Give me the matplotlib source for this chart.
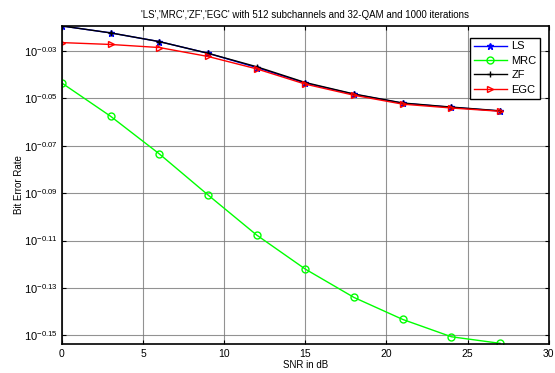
import matplotlib
matplotlib.use("Agg")
import matplotlib.pyplot as plt
from matplotlib.ticker import FixedLocator, FixedFormatter, NullLocator

plt.rcParams['font.family'] = ['Liberation Sans', 'DejaVu Sans']
plt.rcParams['mathtext.default'] = 'regular'

snr = [0, 3, 6, 9, 12, 15, 18, 21, 24, 27]
ber_ls = [0.9561, 0.9497, 0.9417, 0.9311, 0.9183, 0.9045, 0.8947, 0.8870, 0.8835, 0.8803]
ber_mrc = [0.9045, 0.8758, 0.8444, 0.8114, 0.7804, 0.7550, 0.7345, 0.7190, 0.7070, 0.7025]
ber_zf = [0.9561, 0.9497, 0.9417, 0.9311, 0.9190, 0.9050, 0.8950, 0.8872, 0.8837, 0.8805]
ber_egc = [0.9408, 0.9391, 0.9363, 0.9282, 0.9171, 0.9036, 0.8939, 0.8862, 0.8829, 0.8801]
ytick_exp = [-0.15, -0.13, -0.11, -0.09, -0.07, -0.05, -0.03]
ytick_labels = ['$10^{%s}$' % e for e in ['-0.15', '-0.13', '-0.11', '-0.09', '-0.07', '-0.05', '-0.03']]
xticks = [0, 5, 10, 15, 20, 25, 30]

fig = plt.figure(figsize=(5.55, 3.73), dpi=100)
ax = fig.add_axes([0.1117, 0.0786, 0.8770, 0.8517])

ax.plot(snr, ber_ls, color='blue', marker='*', markersize=5, lw=1.0, label='LS')
ax.plot(snr, ber_mrc, color='#00ff00', marker='o', markersize=5, markerfacecolor='none', lw=1.0, label='MRC')
ax.plot(snr, ber_zf, color='black', marker='+', markersize=5, lw=1.0, label='ZF')
ax.plot(snr, ber_egc, color='red', marker='>', markersize=5, markerfacecolor='none', lw=1.0, label='EGC')

ax.set_yscale('log')
ax.set_xlim(0, 30)
ax.set_ylim(10 ** -0.1535, 10 ** -0.0195)
ax.yaxis.set_major_locator(FixedLocator([10 ** e for e in ytick_exp]))
ax.yaxis.set_major_formatter(FixedFormatter(ytick_labels))
ax.yaxis.set_minor_locator(NullLocator())
ax.set_xticks(xticks)

ax.grid(True, color='#777777', lw=0.8, alpha=0.8)
ax.tick_params(direction='in', top=True, right=True, labelsize=7.5, length=3, color='black')
ax.tick_params(axis='y', labelsize=8, pad=3)
for s in ax.spines.values():
    s.set_linewidth(1.2)

ax.set_xlabel('SNR in dB', fontsize=7, labelpad=1)
ax.set_ylabel('Bit Error Rate', fontsize=7, labelpad=0)
ax.set_title("'LS','MRC','ZF','EGC' with 512 subchannels and 32-QAM and 1000 iterations", fontsize=7, pad=6)

leg = ax.legend(loc='upper right', fontsize=8, fancybox=False, framealpha=1, edgecolor='black',
                borderpad=0.35, labelspacing=0.4, handlelength=3.0, handletextpad=0.4,
                bbox_to_anchor=(0.9945, 0.981))
leg.get_frame().set_linewidth(1.0)

fig.savefig('out.png', dpi=100)
